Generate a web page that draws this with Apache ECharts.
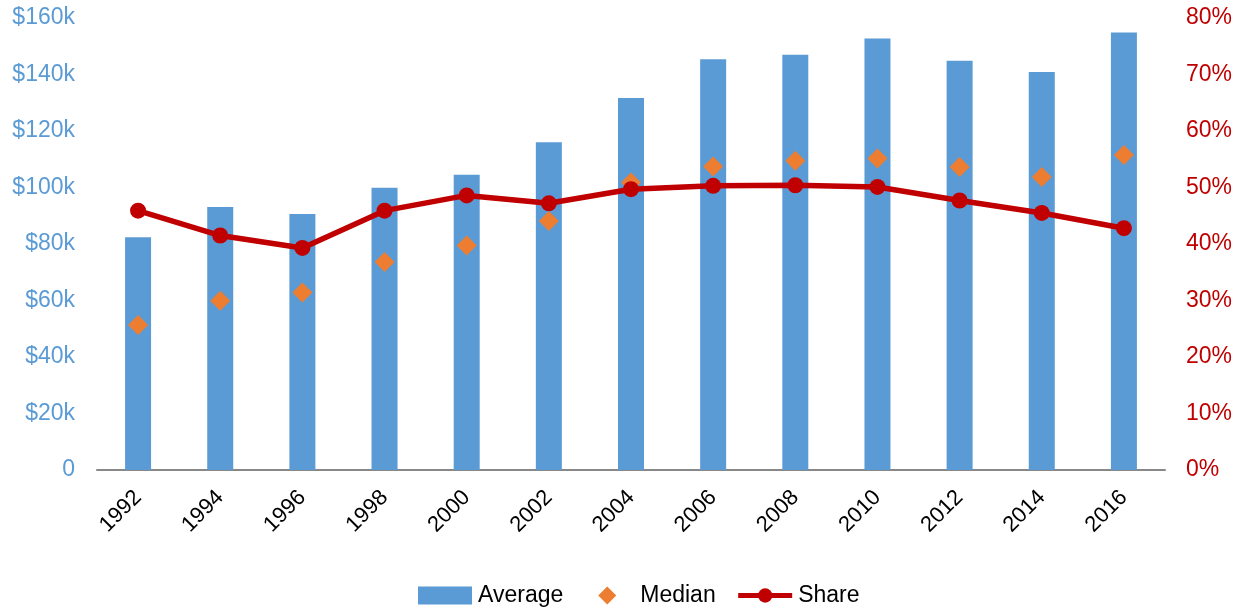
<!DOCTYPE html>
<html>
<head>
<meta charset="utf-8">
<script src="https://cdn.jsdelivr.net/npm/echarts@6/dist/echarts.min.js"></script>
<style>
html, body { margin: 0; padding: 0; background: #fff; }
#chart1 { width: 1245px; height: 612px; }
</style>
</head>
<body>
<div id="chart1"></div>
<script>
var years = ['1992','1994','1996','1998','2000','2002','2004','2006','2008','2010','2012','2014','2016'];
var average = [82400, 93100, 90600, 99900, 104500, 116000, 131700, 145400, 147000, 152700, 144900, 140900, 154900];
var median = [51300, 59900, 62800, 73600, 79500, 88100, 101800, 107400, 109500, 110300, 107300, 103700, 111500];
var share = [45.9, 41.5, 39.3, 45.9, 48.6, 47.2, 49.7, 50.3, 50.4, 50.1, 47.7, 45.5, 42.8];

var myChart1 = echarts.init(document.getElementById('chart1'));

var font = "'Liberation Sans', Arial, sans-serif";
var diamond = 'path://M0,-10 L10,0 L0,10 L-10,0 Z';
// legend diamond, padded so it sits centred in the wide legend box
var diamondWide = 'path://M-24,-9 M0,-9 L9,0 L0,9 L-9,0 Z M24,9';

option1 = {
    animation: false,
    textStyle: { fontFamily: font },
    grid: { left: 97, right: 80, top: 18, bottom: 142 },
    legend: {
        bottom: 0,
        left: 413,
        itemGap: 20,
        itemWidth: 54,
        itemHeight: 18,
        symbolKeepAspect: true,
        textStyle: { fontSize: 23, color: '#000', fontFamily: font, padding: [0, 0, 0, 1] },
        data: [
            { name: 'Average', icon: 'rect', itemStyle: { borderWidth: 0 } },
            { name: 'Median', icon: diamondWide, itemStyle: { opacity: 1 } },
            { name: 'Share', lineStyle: { width: 5 } }
        ]
    },
    xAxis: {
        type: 'category',
        data: years,
        axisLine: { lineStyle: { color: '#888', width: 2 } },
        axisTick: { show: false },
        axisLabel: { rotate: 45, fontSize: 22, color: '#000', margin: 24, fontFamily: font }
    },
    yAxis: [
        {
            type: 'value',
            min: 0, max: 160000, interval: 20000,
            splitLine: { show: false },
            axisLine: { show: false },
            axisTick: { show: false },
            axisLabel: {
                fontSize: 23, color: '#5B9BD5', margin: 22, fontFamily: font,
                formatter: function (v) { return v === 0 ? '0' : '$' + (v / 1000) + 'k'; }
            }
        },
        {
            type: 'value',
            min: 0, max: 80, interval: 10,
            splitLine: { show: false },
            axisLine: { show: false },
            axisTick: { show: false },
            axisLabel: {
                fontSize: 23, color: '#C00000', margin: 21, fontFamily: font,
                formatter: '{value}%'
            }
        }
    ],
    series: [
        {
            name: 'Average',
            type: 'bar',
            data: average,
            barWidth: 26,
            itemStyle: { color: '#5B9BD5' }
        },
        {
            name: 'Median',
            type: 'scatter',
            data: median,
            symbol: diamond,
            symbolSize: 20,
            itemStyle: { color: '#ED7D31', opacity: 1 },
            z: 3
        },
        {
            name: 'Share',
            type: 'line',
            yAxisIndex: 1,
            data: share,
            symbol: 'circle',
            symbolSize: 16,
            lineStyle: { color: '#C00000', width: 5.5 },
            itemStyle: { color: '#C00000' },
            z: 4
        }
    ]
};

myChart1.setOption(option1);
</script>
</body>
</html>
